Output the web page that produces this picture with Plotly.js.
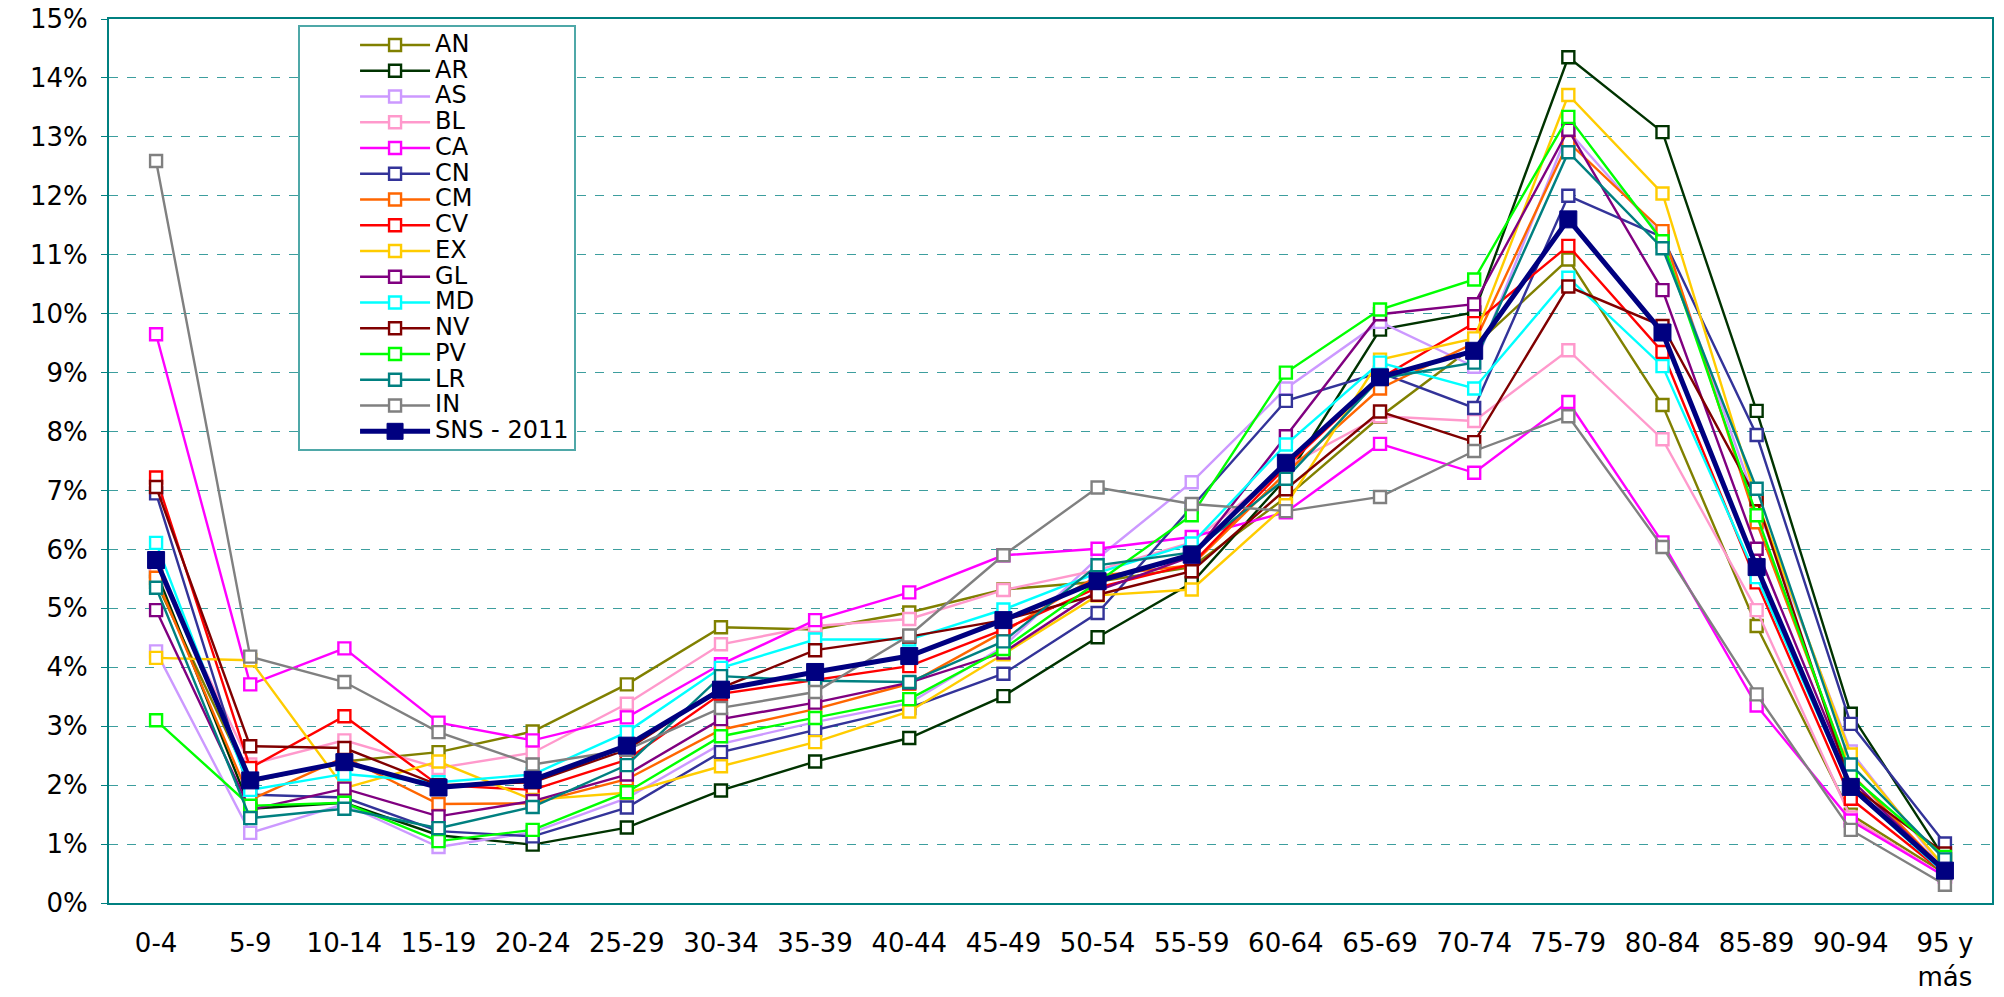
<!DOCTYPE html>
<html>
<head>
<meta charset="utf-8">
<script src="https://cdn.plot.ly/plotly-3.0.1.min.js"></script>
<style>html,body{margin:0;padding:0;background:#fff;}#chart{width:2004px;height:997px;}</style>
</head>
<body>
<div id="chart"></div>
<script>
const categories = ["0-4","5-9","10-14","15-19","20-24","25-29","30-34","35-39","40-44","45-49","50-54","55-59","60-64","65-69","70-74","75-79","80-84","85-89","90-94","95 y<br>más"];

const AN  = [5.45,2.05,2.40,2.56,2.91,3.71,4.68,4.64,4.93,5.32,5.45,5.70,6.88,8.25,9.45,10.92,8.45,4.70,1.50,0.50];
const AR  = [5.63,1.60,1.70,1.15,0.99,1.28,1.91,2.40,2.80,3.51,4.51,5.43,7.20,9.73,10.02,14.35,13.08,8.35,3.21,0.75];
const AS  = [4.27,1.19,1.68,0.95,1.20,1.78,2.70,3.07,3.39,4.35,5.85,7.14,8.73,9.86,9.10,13.10,11.30,6.75,2.57,0.55];
const BL  = [5.70,2.35,2.76,2.29,2.55,3.38,4.39,4.70,4.82,5.31,5.65,6.12,7.40,8.26,8.18,9.38,7.87,4.97,1.45,0.45];
const CA  = [9.65,3.71,4.32,3.06,2.76,3.15,4.05,4.80,5.27,5.90,6.01,6.21,6.63,7.79,7.30,8.50,6.12,3.35,1.40,0.45];
const CN  = [6.95,1.84,1.79,1.22,1.13,1.62,2.56,2.94,3.31,3.89,4.92,6.72,8.52,9.00,8.40,12.00,11.30,7.94,3.04,1.01];
const CM  = [5.52,1.75,2.47,1.68,1.69,2.10,2.94,3.29,3.72,4.60,5.55,5.73,7.30,8.73,9.50,12.91,11.40,6.46,2.20,0.55];
const CV  = [7.22,2.29,3.17,2.00,1.92,2.43,3.55,3.79,4.02,4.64,5.35,5.75,7.40,8.90,9.84,11.15,9.35,5.44,1.77,0.50];
const EX  = [4.16,4.12,1.95,2.40,1.75,1.87,2.32,2.73,3.25,4.22,5.22,5.32,6.75,9.22,9.58,13.71,12.04,6.84,2.52,0.60];
const GL  = [4.97,1.58,1.94,1.47,1.73,2.18,3.12,3.40,3.74,4.25,5.30,5.88,7.92,9.99,10.16,13.12,10.40,6.01,2.10,0.55];
const MD  = [6.11,1.92,2.19,2.05,2.18,2.90,3.99,4.47,4.47,4.98,5.60,6.10,7.78,9.17,8.73,10.61,9.11,5.53,1.95,0.50];
const NV  = [7.06,2.66,2.63,2.00,2.05,2.60,3.65,4.29,4.52,4.80,5.23,5.63,7.02,8.34,7.82,10.46,9.79,6.85,2.00,0.84];
const PV  = [3.10,1.65,1.70,1.05,1.24,1.88,2.83,3.14,3.46,4.31,5.45,6.58,9.00,10.07,10.58,13.34,11.23,6.58,2.16,0.78];
const LR  = [5.35,1.44,1.60,1.27,1.63,2.34,3.85,3.77,3.75,4.44,5.73,5.95,7.20,8.90,9.17,12.74,11.11,7.03,2.35,0.74];
const IN  = [12.59,4.18,3.75,2.90,2.35,2.60,3.31,3.58,4.54,5.90,7.05,6.77,6.65,6.89,7.67,8.26,6.04,3.54,1.24,0.31];
const SNS = [5.82,2.08,2.39,1.96,2.09,2.67,3.62,3.92,4.19,4.80,5.46,5.91,7.47,8.92,9.37,11.60,9.68,5.70,1.97,0.55];

const seriesNames = ["AN","AR","AS","BL","CA","CN","CM","CV","EX","GL","MD","NV","PV","LR","IN"];
const seriesValues = [AN,AR,AS,BL,CA,CN,CM,CV,EX,GL,MD,NV,PV,LR,IN];
const seriesColors = ["#808000","#003300","#CC99FF","#FF99CC","#FF00FF","#333399","#FF6600","#FF0000","#FFCC00","#800080","#00FFFF","#800000","#00FF00","#008080","#808080"];
const totalName = "SNS - 2011";

const yTickVals = [0,1,2,3,4,5,6,7,8,9,10,11,12,13,14,15];
const yTickText = ["0%","1%","2%","3%","4%","5%","6%","7%","8%","9%","10%","11%","12%","13%","14%","15%"];

function legendLabel(s){ return '<span style="font-size:24px">' + s + '</span>'; }

const traces = seriesNames.map((n,i)=>({
  type:'scatter', mode:'lines+markers', name:legendLabel(n),
  x:categories, y:seriesValues[i],
  line:{color:seriesColors[i], width:2.4},
  marker:{symbol:'square', size:12, color:'#ffffff', line:{color:seriesColors[i], width:2.4}}
}));
traces.push({
  type:'scatter', mode:'lines+markers', name:legendLabel(totalName),
  x:categories, y:SNS,
  line:{color:'#000080', width:5},
  marker:{symbol:'square', size:17, color:'#000080', line:{color:'#000080', width:1}}
});

const layout = {
  width:2004, height:997,
  margin:{l:109, r:12, t:19, b:94},
  paper_bgcolor:'#ffffff', plot_bgcolor:'#ffffff',
  font:{family:'DejaVu Sans, Verdana, sans-serif', size:26, color:'#000'},
  showlegend:true,
  legend:{
    x:0.1004, y:0.993, xanchor:'left', yanchor:'top',
    bordercolor:'#4FA8A8', borderwidth:2, bgcolor:'#ffffff',
    font:{family:'DejaVu Sans, Verdana, sans-serif', size:17.5, color:'#000'},
    tracegroupgap:0, itemwidth:70, indentation:55,
    entrywidth:215, entrywidthmode:'pixels'
  },
  xaxis:{
    type:'category', range:[-0.5,19.5],
    showgrid:false, zeroline:false,
    showline:true, mirror:true, linecolor:'#008080', linewidth:2,
    ticks:'', ticklabelstandoff:16,
    tickfont:{size:26}
  },
  yaxis:{
    range:[0,15], tickmode:'array', tickvals:yTickVals, ticktext:yTickText,
    showgrid:true, gridcolor:'#3D9E9E', griddash:'dash', gridwidth:1,
    zeroline:false,
    showline:true, mirror:true, linecolor:'#008080', linewidth:2,
    ticks:'outside', ticklen:6, tickcolor:'#008080', ticklabelstandoff:8,
    tickfont:{size:26}
  }
};

Plotly.newPlot('chart', traces, layout, {displayModeBar:false, staticPlot:true});
</script>
</body>
</html>
